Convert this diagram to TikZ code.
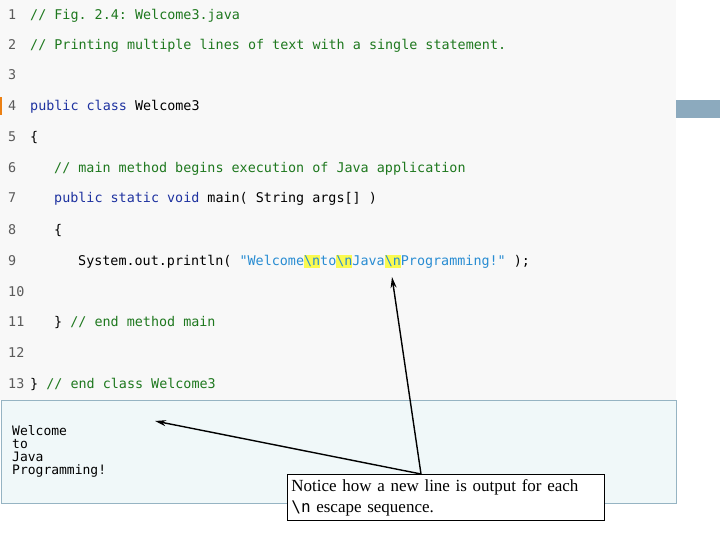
\documentclass[tikz,border=0pt]{standalone}
\usepackage{fontspec}
\usetikzlibrary{arrows.meta}
\setmainfont{Liberation Serif}
\setmonofont{DejaVu Sans Mono}
\definecolor{cmt}{RGB}{30,120,30}
\definecolor{kw}{RGB}{30,50,160}
\definecolor{str}{RGB}{40,140,210}
\definecolor{hly}{RGB}{250,250,80}
\definecolor{codebg}{RGB}{248,248,248}
\definecolor{outbg}{RGB}{240,248,249}
\definecolor{outbd}{RGB}{150,180,195}
\definecolor{tabc}{RGB}{140,170,190}
\definecolor{numc}{RGB}{90,90,90}
\newcommand\hlbs[1]{{\fboxsep=0pt\colorbox{hly}{\vphantom{Ag}#1}}}
\begin{document}
\begin{tikzpicture}[x=1pt,y=-1pt,
  code/.style={anchor=base west,inner sep=0pt,font=\ttfamily\fontsize{13.4}{14}\selectfont},
  num/.style={code,text=numc},
  arr/.style={-{Stealth[length=11pt,width=6pt]},line width=1.4pt}]
\useasboundingbox (0,0) rectangle (720,540);
\fill[white] (0,0) rectangle (720,540);
\fill[codebg] (0,0) rectangle (676,400);
\fill[tabc] (676,100) rectangle (720,118);
\fill[orange!70!brown] (0,97) rectangle (2,115);
\draw[outbd,fill=outbg] (1,400) rectangle (676,503);
\foreach \n/\y in {1/15,2/45,3/75,4/106,5/137,6/168,7/198,8/229,9/260,10/291,11/321,12/352,13/383}
  \node[num] (n\n) at (8,\y+5) {\n};
\node[code,text=cmt] (l1) at (30,20) {// Fig. 2.4: Welcome3.java};
\node[code,text=cmt] (l2) at (30,50) {// Printing multiple lines of text with a single statement.};
\node[code] (l4) at (30,111) {\textcolor{kw}{public class} Welcome3};
\node[code] (l5) at (30,142) {\{};
\node[code,text=cmt] (l6) at (54,173) {// main method begins execution of Java application};
\node[code] (l7) at (54,203) {\textcolor{kw}{public static void} main( String args[] )};
\node[code] (l8) at (54,234) {\{};
\node[code] (l9) at (78,265) {System.out.println( \textcolor{str}{"Welcome\hlbs{\textbackslash n}to\hlbs{\textbackslash n}Java\hlbs{\textbackslash n}Programming!"} );};
\node[code] (l11) at (54,326) {\} \textcolor{cmt}{// end method main}};
\node[code] (l13) at (30,388) {\} \textcolor{cmt}{// end class Welcome3}};
\node[anchor=north west,inner sep=0pt,align=left,font=\ttfamily\fontsize{13}{13}\selectfont] (out) at (12,425) {Welcome\\to\\Java\\Programming!};
\node[draw=black,fill=white,anchor=north west,text width=309pt,minimum height=46pt,inner sep=4pt,align=left,font=\fontsize{17}{21}\selectfont,line width=0.8pt] (note) at (287,474)
  {Notice how a new line is output for each\\{\ttfamily\fontsize{16}{20}\selectfont\textbackslash n} escape sequence.};
\coordinate (src) at (421,474);
\coordinate (t1) at (392,277);
\coordinate (t2) at (155,421);
\draw[arr] (src) -- (t1);
\draw[arr] (src) -- (t2);
\end{tikzpicture}
\end{document}
